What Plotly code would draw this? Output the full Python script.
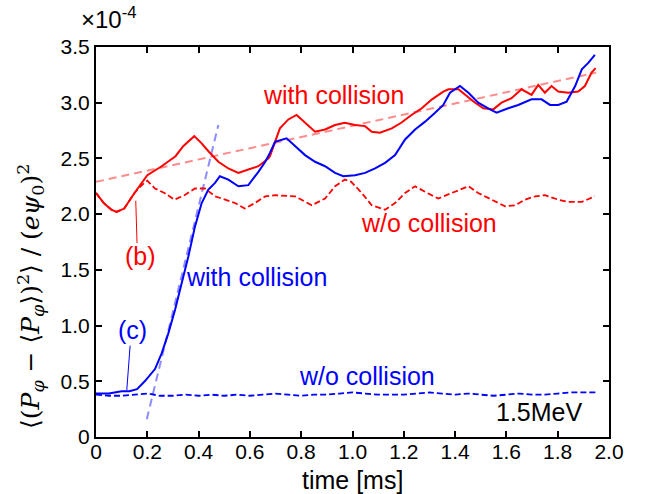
import plotly.graph_objects as go

# ---- data (units: time in ms, value in 1e-4) ----
t_red_col = [0.00, 0.03, 0.06, 0.08, 0.11, 0.15, 0.20, 0.256, 0.31, 0.34, 0.383, 0.41, 0.44, 0.477,
             0.516, 0.555, 0.594, 0.633, 0.672, 0.678, 0.717, 0.75, 0.782, 0.815, 0.854, 0.893, 0.932,
             0.97, 1.01, 1.049, 1.075, 1.107, 1.153, 1.19, 1.23, 1.27, 1.31, 1.354, 1.374, 1.413,
             1.445, 1.478, 1.51, 1.549, 1.581, 1.62, 1.659, 1.698, 1.724, 1.75, 1.776, 1.802, 1.841,
             1.88, 1.906, 1.932, 1.948]
v_red_col = [2.19, 2.10, 2.04, 2.02, 2.05, 2.19, 2.35, 2.43, 2.52, 2.61, 2.70, 2.64, 2.56, 2.47,
             2.41, 2.37, 2.40, 2.43, 2.50, 2.52, 2.77, 2.85, 2.89, 2.82, 2.74, 2.76, 2.80,
             2.82, 2.80, 2.79, 2.74, 2.73, 2.77, 2.82, 2.89, 2.95, 3.03, 3.10, 3.12, 3.12,
             3.06, 3.00, 2.95, 2.94, 3.00, 3.04, 3.12, 3.07, 3.16, 3.09, 3.15, 3.10, 3.09,
             3.10, 3.15, 3.27, 3.31]

t_blue_col = [0.00, 0.05, 0.10, 0.13, 0.16, 0.19, 0.23, 0.256, 0.282, 0.308, 0.334, 0.36, 0.386,
              0.412, 0.438, 0.464, 0.483, 0.516, 0.555, 0.594, 0.633, 0.66, 0.678, 0.698, 0.743,
              0.776, 0.815, 0.854, 0.893, 0.932, 0.964, 1.01, 1.049, 1.088, 1.127, 1.166, 1.205,
              1.244, 1.283, 1.322, 1.354, 1.38, 1.419, 1.452, 1.49, 1.536, 1.562, 1.607, 1.646,
              1.698, 1.737, 1.77, 1.802, 1.835, 1.868, 1.894, 1.92, 1.945]
v_blue_col = [0.39, 0.39, 0.41, 0.41, 0.43, 0.50, 0.61, 0.75, 0.93, 1.14, 1.38, 1.62, 1.89,
              2.10, 2.22, 2.28, 2.34, 2.31, 2.25, 2.26, 2.38, 2.47, 2.55, 2.65, 2.68,
              2.61, 2.53, 2.47, 2.43, 2.37, 2.34, 2.35, 2.37, 2.41, 2.46, 2.53, 2.67,
              2.76, 2.83, 2.91, 2.98, 3.09, 3.15, 3.09, 3.00, 2.94, 2.91, 2.95, 2.98,
              3.03, 3.03, 2.98, 2.98, 3.01, 3.15, 3.30, 3.36, 3.43]

t_red_nocol = [0.00, 0.03, 0.06, 0.08, 0.11, 0.15, 0.178, 0.20, 0.23, 0.267, 0.306, 0.345, 0.386,
               0.425, 0.464, 0.503, 0.542, 0.58, 0.62, 0.66, 0.698, 0.776, 0.841, 0.893, 0.932,
               0.97, 0.995, 1.036, 1.075, 1.127, 1.166, 1.205, 1.244, 1.283, 1.334, 1.387, 1.426,
               1.452, 1.49, 1.543, 1.595, 1.634, 1.673, 1.712, 1.75, 1.802, 1.84, 1.894, 1.945]
v_red_nocol = [2.19, 2.10, 2.04, 2.02, 2.05, 2.19, 2.26, 2.30, 2.23, 2.19, 2.13, 2.17, 2.23,
               2.23, 2.16, 2.13, 2.10, 2.05, 2.10, 2.16, 2.17, 2.16, 2.08, 2.14, 2.25,
               2.31, 2.29, 2.19, 2.08, 2.04, 2.10, 2.19, 2.25, 2.20, 2.14, 2.19, 2.23,
               2.25, 2.19, 2.13, 2.07, 2.08, 2.13, 2.16, 2.17, 2.13, 2.11, 2.11, 2.16]

t_blue_nocol = [0.00, 0.05, 0.10, 0.15, 0.20, 0.25, 0.30, 0.35, 0.40, 0.45, 0.50, 0.55, 0.60,
                0.65, 0.70, 0.75, 0.80, 0.85, 0.90, 0.95, 1.00, 1.05, 1.10, 1.15, 1.20, 1.25,
                1.30, 1.35, 1.40, 1.45, 1.50, 1.55, 1.60, 1.65, 1.70, 1.75, 1.80, 1.85, 1.90, 1.95]
v_blue_nocol = [0.38, 0.37, 0.37, 0.38, 0.39, 0.37, 0.37, 0.38, 0.37, 0.38, 0.37, 0.38, 0.37,
                0.38, 0.39, 0.38, 0.37, 0.38, 0.38, 0.39, 0.40, 0.39, 0.38, 0.38, 0.38, 0.39,
                0.40, 0.39, 0.38, 0.39, 0.38, 0.37, 0.38, 0.39, 0.38, 0.38, 0.39, 0.40, 0.40, 0.40]

t_red_fit = [0.0, 1.95]
v_red_fit = [2.29, 3.27]
t_blue_fit = [0.198, 0.477]
v_blue_fit = [0.16, 2.80]

x_ticks = [0, 0.2, 0.4, 0.6, 0.8, 1.0, 1.2, 1.4, 1.6, 1.8, 2.0]
x_ticktext = ["0", "0.2", "0.4", "0.6", "0.8", "1.0", "1.2", "1.4", "1.6", "1.8", "2.0"]
y_ticks = [0, 0.5, 1.0, 1.5, 2.0, 2.5, 3.0, 3.5]
y_ticktext = ["0", "0.5", "1.0", "1.5", "2.0", "2.5", "3.0", "3.5"]

RED = "#ff0000"
BLUE = "#0000ff"
FONT = "Arial, Liberation Sans, sans-serif"

fig = go.Figure()
fig.add_trace(go.Scatter(x=t_red_fit, y=v_red_fit, mode="lines",
                         line=dict(color="#ff8c8c", width=2, dash="8px,5px")))
fig.add_trace(go.Scatter(x=t_blue_fit, y=v_blue_fit, mode="lines",
                         line=dict(color="#8c8cff", width=2, dash="8px,5px")))
fig.add_trace(go.Scatter(x=t_red_nocol, y=v_red_nocol, mode="lines",
                         line=dict(color=RED, width=1.8, dash="6px,3px")))
fig.add_trace(go.Scatter(x=t_blue_nocol, y=v_blue_nocol, mode="lines",
                         line=dict(color=BLUE, width=1.8, dash="6px,3px")))
fig.add_trace(go.Scatter(x=t_red_col, y=v_red_col, mode="lines",
                         line=dict(color=RED, width=2)))
fig.add_trace(go.Scatter(x=t_blue_col, y=v_blue_col, mode="lines",
                         line=dict(color=BLUE, width=2)))

# pointer lines for (b) and (c)
fig.add_trace(go.Scatter(x=[0.16, 0.155], y=[1.74, 2.12], mode="lines",
                         line=dict(color=RED, width=1)))
fig.add_trace(go.Scatter(x=[0.133, 0.12], y=[0.82, 0.42], mode="lines",
                         line=dict(color=BLUE, width=1)))

labels = [
    ("with collision", 0.924, 3.07, RED),
    ("w/o collision", 1.30, 1.92, RED),
    ("with collision", 0.624, 1.44, BLUE),
    ("w/o collision", 1.058, 0.55, BLUE),
    ("(b)", 0.172, 1.62, RED),
    ("(c)", 0.142, 0.96, BLUE),
    ("1.5MeV", 1.727, 0.22, "black"),
]
for txt, x, y, c in labels:
    fig.add_annotation(x=x, y=y, text=txt, showarrow=False, xref="x", yref="y",
                       font=dict(family=FONT, size=25, color=c))

fig.add_annotation(xref="paper", yref="paper", x=-0.033, y=1.03, xanchor="left", yanchor="bottom",
                   text="×10<sup>-4</sup>", showarrow=False,
                   font=dict(family=FONT, size=24, color="black"))

fig.add_annotation(xref="paper", yref="paper", x=-0.128, y=0.36, xanchor="center", yanchor="middle",
                   textangle=-90, showarrow=False,
                   text="⟨(<i>P</i><sub><i>φ</i></sub> − ⟨<i>P</i><sub><i>φ</i></sub>⟩)<sup>2</sup>⟩ / (<i>eψ</i><sub>0</sub>)<sup>2</sup>",
                   font=dict(family="DejaVu Serif, serif", size=25, color="black"))

fig.add_annotation(xref="paper", yref="paper", x=0.5, y=-0.11, xanchor="center", yanchor="middle",
                   text="time [ms]", showarrow=False,
                   font=dict(family=FONT, size=25, color="black"))

axis_common = dict(showline=True, linecolor="black", linewidth=2, mirror="ticks",
                   ticks="inside", ticklen=6, tickwidth=1.5, tickcolor="black",
                   showgrid=False, zeroline=False, automargin=False,
                   tickfont=dict(family=FONT, size=21, color="black"))

fig.update_layout(
    width=647, height=494,
    margin=dict(l=96, r=38, t=47, b=57),
    plot_bgcolor="white", paper_bgcolor="white",
    showlegend=False,
    xaxis=dict(range=[0, 2.0], tickvals=x_ticks, ticktext=x_ticktext,
               ticklabelstandoff=-5, **axis_common),
    yaxis=dict(range=[0, 3.5], tickvals=y_ticks, ticktext=y_ticktext, **axis_common),
)

fig.write_html("out.html")
